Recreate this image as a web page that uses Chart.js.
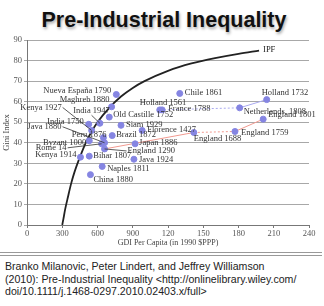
<!DOCTYPE html>
<html lang="en">
<head>
    <meta charset="UTF-8">
    <title>Pre-Industrial Inequality</title>
    <script src="https://cdn.jsdelivr.net/npm/chart.js"></script>
    <style>
        body {
            margin: 0;
            width: 324px;
            height: 306px;
            background: #fff;
            position: relative;
            overflow: hidden;
        }

        .title {
            position: absolute;
            left: 0;
            top: 8px;
            width: 328px;
            text-align: center;
            font-family: "Liberation Sans", Arial, sans-serif;
            font-weight: bold;
            font-size: 21.5px;
            color: #111;
            text-shadow: 1px 2px 3px rgba(0,0,0,0.35);
        }

        .chart-box {
            position: absolute;
            left: 0;
            top: 0;
            width: 324px;
            height: 250px;
        }

        .rule {
            position: absolute;
            left: 0;
            top: 252px;
            width: 322px;
            height: 2px;
            border-top: 1px solid #999;
            border-bottom: 1px solid #999;
        }

        .caption {
            position: absolute;
            left: 5px;
            top: 260px;
            font-family: "Liberation Sans", Arial, sans-serif;
            font-size: 10.6px;
            line-height: 12.7px;
            color: #222;
            white-space: nowrap;
        }
    </style>
</head>
<body>
    <div class="title">Pre-Industrial Inequality</div>
    <div class="chart-box">
        <canvas id="chart"></canvas>
    </div>
    <div class="rule"></div>
    <div class="caption">
        Branko Milanovic, Peter Lindert, and Jeffrey Williamson<br>
        (2010): Pre-Industrial Inequality &lt;http://onlinelibrary.wiley.com/<br>
        doi/10.1111/j.1468-0297.2010.02403.x/full&gt;
    </div>

    <script>
        // societies: name, GDI per capita, Gini
        const names = [
            'Nueva España 1790', 'Maghreb 1880', 'Kenya 1927', 'India 1947', 'India 1750',
            'Java 1880', 'Peru 1876', 'Byzant 1000', 'Rome 14', 'Kenya 1914',
            'Bihar 1807', 'Naples 1811', 'China 1880', 'Old Castille 1752', 'Siam 1929',
            'Brazil 1872', 'Florence 1427', 'Japan 1886', 'Java 1924', 'England 1290',
            'Holland 1561', 'France 1788', 'Chile 1861', 'Holland 1732', 'Netherlands, 1808',
            'England 1801', 'England 1688', 'England 1759'
        ];
        const gdi = [
            760, 720, 550, 620, 525,
            660, 650, 530, 635, 455,
            530, 640, 540, 700, 800,
            725, 980, 920, 910, 660,
            1130, 1150, 1300, 2040, 1810,
            2010, 1420, 1770
        ];
        const gini = [
            63.5, 57.5, 46, 49.5, 49,
            40, 42.5, 41, 39.5, 33,
            33.5, 28.5, 24.5, 52.5, 48.5,
            43.5, 46, 39.5, 32, 37,
            56, 56, 64, 61, 57,
            51.5, 45, 45.5
        ];

        // connected series
        const englandPath = ['England 1290', 'England 1688', 'England 1759', 'England 1801'];
        const hollandPath = ['Holland 1561', 'Netherlands, 1808', 'Holland 1732'];

        // inequality possibility frontier
        const ipfGdi  = [300, 310, 325, 350, 375, 400, 450, 500, 550, 600, 700, 800, 900, 1000, 1200, 1400, 1600, 1800, 1975];
        const ipfGini = [0, 3, 7.7, 14, 20, 25, 33, 40, 45.5, 50, 57, 62.5, 66.7, 70, 75, 78.6, 81.2, 83.3, 84.8];

        const xTickLabels = ['0', '300', '600', '900', '120', '150', '180', '210', '240'];

        // label placement (pixels from the point)
        const labelPos = {
            'Nueva España 1790': [-5, -4, 'right'],
            'Maghreb 1880': [-2, -7.5, 'right'],
            'Kenya 1927': [-30, -23, 'right', true],
            'India 1947': [10, -12, 'right', true],
            'India 1750': [-5, -3, 'right'],
            'Java 1880': [-43, -16, 'right', true],
            'Peru 1876': [3, -3, 'right'],
            'Byzant 1000': [-3, 2, 'right'],
            'Rome 14': [-35, 4, 'right', true],
            'Kenya 1914': [-4, -2, 'right'],
            'Bihar 1807': [4, 0, 'left'],
            'Naples 1811': [5, 2, 'left'],
            'China 1880': [3, 5, 'left'],
            'Old Castille 1752': [4, -2, 'left'],
            'Siam 1929': [5, -1, 'left'],
            'Brazil 1872': [4, -1, 'left'],
            'Florence 1427': [5, -1, 'left'],
            'Japan 1886': [4, -1, 'left'],
            'Java 1924': [5, 1, 'left'],
            'England 1290': [23, 2, 'left', true],
            'Holland 1561': [-20, -7, 'left'],
            'France 1788': [6, -1, 'left'],
            'Chile 1861': [5, -1, 'left'],
            'Holland 1732': [-5, -7, 'left'],
            'Netherlands, 1808': [4, 4, 'left'],
            'England 1801': [5, -4, 'left'],
            'England 1688': [0, 6, 'left'],
            'England 1759': [6, 1, 'left']
        };

        const points = names.map((n, i) => ({ x: gdi[i], y: gini[i] }));
        const pick = list => list.map(n => points[names.indexOf(n)]);
        const ipf = ipfGdi.map((v, i) => ({ x: v, y: ipfGini[i] }));

        const serif = '"Liberation Serif", "Times New Roman", serif';

        // draws point names and the few leader lines
        const labelPlugin = {
            id: 'pointLabels',
            afterDatasetsDraw(chart) {
                const ctx = chart.ctx;
                const meta = chart.getDatasetMeta(0);
                ctx.save();
                ctx.font = '8.5px ' + serif;
                ctx.fillStyle = '#333';
                ctx.strokeStyle = '#333';
                ctx.lineWidth = 0.8;
                ctx.textBaseline = 'middle';
                names.forEach((n, i) => {
                    const p = meta.data[i];
                    const pos = labelPos[n];
                    const tx = p.x + pos[0];
                    const ty = p.y + pos[1];
                    ctx.textAlign = pos[2];
                    ctx.fillText(n, tx, ty);
                    if (pos[3]) {
                        const w = ctx.measureText(n).width;
                        let sx = pos[2] === 'right' ? tx + 1 : tx - 1;
                        if (pos[2] === 'right' && pos[0] > 0) sx = tx - w / 2;
                        ctx.beginPath();
                        ctx.moveTo(sx, ty + (pos[0] > 0 && pos[2] === 'right' ? 4 : 0));
                        ctx.lineTo(p.x, p.y);
                        ctx.stroke();
                    }
                });
                // IPF tag at end of the curve
                const ipfMeta = chart.getDatasetMeta(3);
                const last = ipfMeta.data[ipfMeta.data.length - 1];
                ctx.textAlign = 'left';
                ctx.fillStyle = '#222';
                ctx.fillText('IPF', last.x + 4, last.y - 1);
                ctx.restore();
            }
        };

        new Chart(document.getElementById('chart'), {
            type: 'scatter',
            data: {
                datasets: [{
                    data: points,
                    backgroundColor: '#8585e2',
                    borderColor: '#8585e2',
                    pointRadius: 3
                }, {
                    type: 'line',
                    data: pick(englandPath),
                    borderColor: '#f19a90',
                    borderWidth: 1,
                    pointRadius: 0,
                    fill: false,
                    segment: {
                        borderDash: c => c.p0DataIndex === 1 ? [2, 2] : undefined
                    }
                }, {
                    type: 'line',
                    data: pick(hollandPath),
                    borderColor: '#a9a9f0',
                    borderWidth: 1,
                    pointRadius: 0,
                    fill: false,
                    segment: {
                        borderDash: c => c.p0DataIndex === 0 ? [2, 2] : undefined
                    }
                }, {
                    type: 'line',
                    data: ipf,
                    borderColor: '#222',
                    borderWidth: 1.8,
                    pointRadius: 0,
                    fill: false,
                    cubicInterpolationMode: 'monotone'
                }]
            },
            options: {
                responsive: true,
                maintainAspectRatio: false,
                animation: false,
                layout: { padding: { top: 40, right: 15, left: 0, bottom: 1 } },
                plugins: {
                    legend: { display: false },
                    tooltip: { enabled: false }
                },
                scales: {
                    x: {
                        type: 'linear',
                        min: 0,
                        max: 2400,
                        afterFit: s => { s.height = 24; },
                        ticks: {
                            stepSize: 300,
                            maxRotation: 0,
                            padding: 1,
                            color: '#555',
                            font: { family: serif, size: 8.5 },
                            callback: (v) => xTickLabels[Math.round(v / 300)]
                        },
                        grid: { drawOnChartArea: false, tickLength: 3, color: '#777' },
                        border: { color: '#777' },
                        title: {
                            display: true,
                            text: 'GDI Per Capita (in 1990 $PPP)',
                            color: '#444',
                            font: { family: serif, size: 8 },
                            padding: { top: 0, bottom: 1 }
                        }
                    },
                    y: {
                        min: 0,
                        max: 90,
                        afterFit: s => { s.width = 27; },
                        ticks: {
                            stepSize: 10,
                            padding: 2,
                            color: '#555',
                            font: { family: serif, size: 8.5 }
                        },
                        grid: { color: '#a8a8a8', tickLength: 3 },
                        border: { color: '#777' },
                        title: {
                            display: true,
                            text: 'Gini Index',
                            color: '#444',
                            font: { family: serif, size: 8.5 },
                            padding: { top: 2, bottom: 0 }
                        }
                    }
                }
            },
            plugins: [labelPlugin]
        });
    </script>
</body>
</html>
